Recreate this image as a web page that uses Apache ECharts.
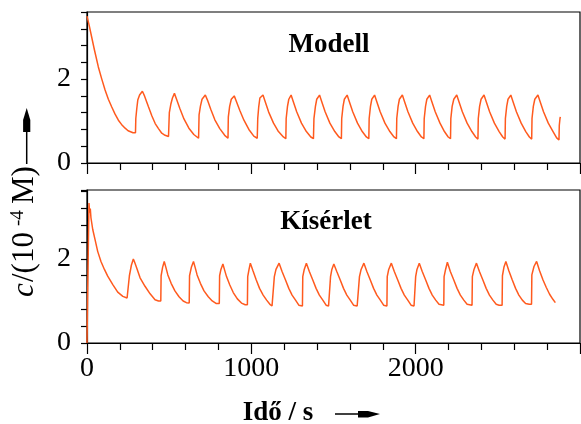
<!DOCTYPE html>
<html>
<head>
<meta charset="utf-8">
<script src="https://cdn.jsdelivr.net/npm/echarts@6/dist/echarts.min.js"></script>
<style>html,body{margin:0;padding:0;background:#fff}#c{width:581px;height:424px}</style>
</head>
<body>
<div id="c"></div>
<script>
// Modell (top panel): time in s, concentration in 1e-4 M
const modelT = [0,4,15,28,45,69,90,110,130,150,170,191,210,232,250,262,280,295,
 297,303,309,320,337,350,374,395,415,435,455,475,496,499,
 501,510,520,532,545,565,590,620,650,679,
 682,690,700,720,733,753,778,808,838,858,
 860,868,878,896,908,930,955,985,1015,1036,
 1039,1045,1052,1071,1083,1105,1135,1165,1195,1210,
 1212,1220,1228,1242,1254,1276,1305,1335,1362,1378,
 1381,1390,1398,1415,1427,1449,1478,1508,1533,1548,
 1550,1558,1566,1583,1595,1617,1646,1675,1700,1715,
 1717,1725,1733,1750,1762,1784,1813,1843,1868,1883,
 1885,1893,1901,1919,1931,1953,1982,2011,2035,2050,
 2052,2060,2068,2085,2097,2119,2148,2175,2198,2212,
 2214,2222,2232,2250,2262,2284,2313,2342,2365,2379,
 2381,2389,2398,2416,2428,2450,2479,2508,2530,2544,
 2546,2554,2562,2579,2591,2613,2642,2670,2692,2706,
 2708,2716,2725,2744,2756,2778,2807,2836,2858,2872,
 2874,2878,2880];
const modelC = [3.5,3.47,3.25,3.01,2.7,2.29,2.0,1.74,1.52,1.34,1.17,1.02,0.92,0.83,0.77,0.73,0.72,0.72,
 1.06,1.3,1.5,1.62,1.71,1.6,1.34,1.12,0.94,0.82,0.71,0.66,0.63,0.63,
 1.2,1.4,1.55,1.66,1.52,1.3,1.05,0.83,0.68,0.59,
 1.15,1.35,1.52,1.62,1.5,1.28,1.03,0.82,0.66,0.59,
 1.1,1.35,1.52,1.6,1.48,1.25,1.02,0.8,0.64,0.59,
 1.06,1.34,1.55,1.62,1.48,1.22,0.95,0.75,0.62,0.58,
 1.06,1.35,1.52,1.62,1.48,1.22,0.95,0.75,0.62,0.58,
 1.06,1.35,1.52,1.62,1.48,1.22,0.95,0.75,0.62,0.58,
 1.06,1.35,1.52,1.62,1.48,1.22,0.95,0.75,0.62,0.58,
 1.06,1.35,1.52,1.62,1.48,1.22,0.95,0.75,0.62,0.58,
 1.06,1.35,1.52,1.62,1.48,1.22,0.95,0.75,0.62,0.58,
 1.06,1.35,1.52,1.62,1.48,1.22,0.95,0.75,0.62,0.58,
 1.06,1.35,1.52,1.62,1.48,1.22,0.95,0.75,0.62,0.57,
 1.06,1.35,1.52,1.62,1.48,1.22,0.95,0.75,0.62,0.57,
 1.06,1.35,1.52,1.62,1.48,1.22,0.95,0.75,0.62,0.57,
 1.06,1.35,1.52,1.62,1.48,1.22,0.95,0.75,0.6,0.55,
 0.9,1.05,1.1];
// Kísérlet (bottom panel)
const expT = [0,4,6,12,16,20,24,35,49,65,85,106,126,157,187,218,244,256,
 258,270,282,290,302,323,353,384,414,435,449,
 451,460,470,480,492,512,535,560,585,605,622,
 624,635,648,658,670,690,712,738,762,785,805,
 807,815,827,837,849,869,890,915,940,963,976,
 978,986,994,1010,1030,1050,1072,1093,1113,1126,1138,
 1140,1150,1169,1187,1208,1228,1248,1269,1289,1299,1311,
 1313,1322,1335,1353,1374,1394,1414,1435,1455,1470,1480,
 1482,1490,1502,1520,1541,1561,1581,1602,1622,1644,1656,
 1658,1668,1685,1703,1724,1744,1764,1785,1805,1817,1825,
 1827,1836,1852,1870,1891,1911,1931,1952,1972,1990,1998,
 2000,2008,2022,2040,2061,2081,2101,2122,2142,2152,2171,
 2173,2182,2193,2211,2232,2252,2272,2293,2313,2325,2343,
 2345,2355,2370,2388,2409,2429,2449,2470,2490,2508,2526,
 2528,2537,2549,2567,2588,2608,2628,2649,2669,2691,2705,
 2707,2720,2736,2754,2775,2795,2815,2835,2850];
const expC = [0,0,1.7,3.33,3.1,3.2,2.98,2.7,2.46,2.18,1.94,1.75,1.59,1.39,1.21,1.11,1.07,1.07,
 1.6,1.85,2.0,1.92,1.79,1.55,1.35,1.17,1.03,1.0,1.0,
 1.6,1.8,1.94,1.8,1.62,1.42,1.24,1.1,1.0,0.96,0.95,
 1.6,1.8,1.94,1.8,1.62,1.42,1.24,1.1,1.0,0.94,0.94,
 1.6,1.75,1.88,1.74,1.58,1.38,1.2,1.05,0.95,0.91,0.91,
 1.58,1.75,1.9,1.72,1.5,1.3,1.14,1.02,0.92,0.88,0.88,
 1.58,1.75,1.9,1.7,1.5,1.3,1.14,1.02,0.9,0.88,0.88,
 1.58,1.75,1.9,1.7,1.5,1.3,1.14,1.02,0.9,0.88,0.88,
 1.58,1.75,1.88,1.7,1.5,1.3,1.14,1.02,0.9,0.88,0.88,
 1.58,1.75,1.9,1.7,1.5,1.3,1.14,1.02,0.9,0.88,0.88,
 1.58,1.75,1.9,1.7,1.5,1.3,1.14,1.02,0.9,0.88,0.88,
 1.58,1.75,1.9,1.7,1.5,1.3,1.14,1.02,0.92,0.9,0.9,
 1.58,1.75,1.92,1.7,1.5,1.3,1.14,1.02,0.92,0.9,0.9,
 1.58,1.75,1.9,1.7,1.5,1.3,1.14,1.02,0.92,0.9,0.9,
 1.6,1.8,1.94,1.72,1.5,1.3,1.14,1.02,0.94,0.92,0.92,
 1.62,1.82,1.94,1.72,1.5,1.32,1.16,1.04,0.96];

const yTickLabels = [0, 2];
const xTickLabels = [0, 1000, 2000];
const panelTitles = ['Modell', 'Kísérlet'];

const SERIF = '"Liberation Serif", "DejaVu Serif", serif';
const LINE = '#ff5a1e';

function pairs(t, c) { return t.map((v, i) => [v, c[i]]); }

function xAxis(idx, showLabels) {
  return {
    type: 'value', gridIndex: idx, min: 0, max: 3000, interval: 1000,
    axisLine: { show: true, onZero: false, lineStyle: { color: '#000', width: 1.2 } },
    axisTick: { show: true, inside: false, length: 11, lineStyle: { color: '#000', width: 1.2 } },
    minorTick: { show: true, splitNumber: 5, length: 7, lineStyle: { color: '#000', width: 1.2 } },
    splitLine: { show: false },
    axisLabel: {
      show: showLabels, margin: 12, fontFamily: SERIF, fontSize: 28, color: '#000',
      showMaxLabel: false,
      formatter: v => xTickLabels.some(l => Math.abs(l - v) < 1e-6) ? String(Math.round(v)) : ''
    }
  };
}
function yAxis(idx, max) {
  return {
    type: 'value', gridIndex: idx, min: 0, max: max, interval: 0.4,
    axisLine: { show: true, onZero: false, lineStyle: { color: '#000', width: 1.2 } },
    axisTick: { show: true, inside: false, length: 6, lineStyle: { color: '#000', width: 1.2 } },
    splitLine: { show: false },
    axisLabel: {
      margin: 16, fontFamily: SERIF, fontSize: 28, color: '#000',
      formatter: v => yTickLabels.some(l => Math.abs(l - v) < 1e-6) ? String(Math.round(v)) : ''
    }
  };
}

const chart = echarts.init(document.getElementById('c'), null, { renderer: 'canvas' });
chart.setOption({
  animation: false,
  backgroundColor: '#fff',
  grid: [
    { left: 87, top: 12, width: 493, height: 151, show: true, borderColor: '#000', borderWidth: 1.2, backgroundColor: 'transparent' },
    { left: 87, top: 190, width: 493, height: 153, show: true, borderColor: '#000', borderWidth: 1.2, backgroundColor: 'transparent' }
  ],
  xAxis: [xAxis(0, false), xAxis(1, true)],
  yAxis: [yAxis(0, 3.6), yAxis(1, 3.64)],
  series: [
    { type: 'line', xAxisIndex: 0, yAxisIndex: 0, data: pairs(modelT, modelC), showSymbol: false,
      lineStyle: { color: LINE, width: 1.5 }, itemStyle: { color: LINE } },
    { type: 'line', xAxisIndex: 1, yAxisIndex: 1, data: pairs(expT, expC), showSymbol: false,
      lineStyle: { color: LINE, width: 1.5 }, itemStyle: { color: LINE } }
  ],
  graphic: [
    { type: 'text', x: 329, y: 45, style: { text: panelTitles[0], font: 'bold 27px ' + SERIF, fill: '#000', align: 'center', verticalAlign: 'middle' } },
    { type: 'text', x: 326, y: 222, style: { text: panelTitles[1], font: 'bold 27px ' + SERIF, fill: '#000', align: 'center', verticalAlign: 'middle' } },
    // x-axis name with arrow
    { type: 'text', x: 278, y: 413, style: { text: 'Idő / s', font: 'bold 27px ' + SERIF, fill: '#000', align: 'center', verticalAlign: 'middle' } },
    { type: 'line', shape: { x1: 335, y1: 414, x2: 362, y2: 414 }, style: { stroke: '#000', lineWidth: 1.5 } },
    { type: 'polygon', shape: { points: [[358, 411], [368, 411], [380, 414], [368, 417.5], [358, 417.5]] }, style: { fill: '#000' } },
    // y-axis name (rotated) with arrow
    { type: 'group', x: 25, y: 297, rotation: Math.PI / 2, children: [
      { type: 'text', x: 0, y: 0, style: { text: 'c', font: 'italic 31px ' + SERIF, fill: '#000', verticalAlign: 'middle' } },
      { type: 'text', x: 15, y: 0, style: { text: '/(10', font: '31px ' + SERIF, fill: '#000', verticalAlign: 'middle' } },
      { type: 'text', x: 71, y: -7, style: { text: '-4', font: '19px ' + SERIF, fill: '#000', verticalAlign: 'middle' } },
      { type: 'text', x: 93, y: 0, style: { text: 'M)', font: '31px ' + SERIF, fill: '#000', verticalAlign: 'middle' } }
    ] },
    { type: 'line', shape: { x1: 26.7, y1: 164, x2: 26.7, y2: 125 }, style: { stroke: '#000', lineWidth: 1.5 } },
    { type: 'polygon', shape: { points: [[26.7, 108], [30.3, 120], [30.3, 132], [23.1, 132], [23.1, 120]] }, style: { fill: '#000' } }
  ]
});
</script>
</body>
</html>
